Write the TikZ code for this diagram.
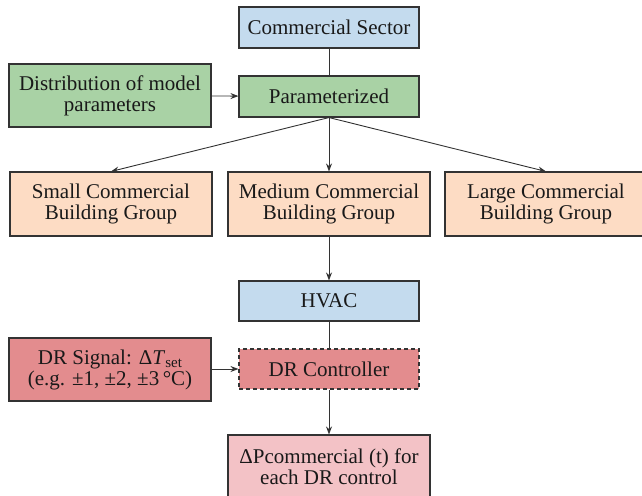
\documentclass[tikz,border=0pt]{standalone}
\usepackage{fontspec}
\setmainfont{Liberation Serif}
\usepackage{tikz}
\usetikzlibrary{arrows.meta}

\definecolor{boxblue}{RGB}{196,219,238}
\definecolor{boxgreen}{RGB}{169,210,165}
\definecolor{boxpeach}{RGB}{253,220,196}
\definecolor{boxred}{RGB}{227,140,142}
\definecolor{boxpink}{RGB}{243,194,198}
\definecolor{edgegray}{RGB}{51,51,51}

\begin{document}
\begin{tikzpicture}[x=1pt,y=-1pt,
    font=\fontsize{21}{21}\selectfont,
    box/.style={draw=edgegray, line width=1.1pt, align=center, inner sep=0pt, text=black!90},
    wide/.style={box, minimum width=180pt, minimum height=41pt},
    group/.style={box, minimum width=202pt, minimum height=64pt},
    link/.style={draw=edgegray, line width=0.9pt},
    >={Stealth[length=8pt,width=6pt]}]
                \useasboundingbox (0,0) rectangle (642,495);

                % Top
                \node[wide, fill=boxblue] (sector) at (329,27.5) {Commercial Sector};
                \node[wide, fill=boxgreen] (param) at (329,96.5) {Parameterized};
                \node[group, fill=boxgreen, minimum height=63pt] (dist) at (110,95.5) {Distribution of model\\parameters};

                % Building groups
                \node[group, fill=boxpeach] (small) at (111,204) {Small Commercial\\Building Group};
                \node[group, fill=boxpeach] (medium) at (329,204) {Medium Commercial\\Building Group};
                \node[group, fill=boxpeach] (large) at (546,204) {Large Commercial\\Building Group};

                % HVAC and DR
                \node[wide, fill=boxblue, minimum height=40pt] (hvac) at (329,301) {HVAC};
                \node[wide, fill=boxred, minimum height=40pt, dashed, dash pattern=on 4pt off 3pt] (drc) at (329,369) {DR Controller};
                \node[group, fill=boxred, minimum height=63pt] (drs) at (110,369.5) {DR Signal: Δ\textit{T}\raisebox{-0.35ex}{\fontsize{15}{15}\selectfont set}\\(e.g. ±1, ±2, ±3\,°C)};
                \node[group, fill=boxpink] (dp) at (329,467) {ΔPcommercial (t) for\\each DR control};

                % Connectors
                \draw[link] (sector) -- (param);
                \draw[link,->] (dist) -- (param);
                \draw[link,->] (param.south) -- (small.north);
                \draw[link,->] (param.south) -- (medium.north);
                \draw[link,->] (param.south) -- (large.north);
                \draw[link,->] (medium) -- (hvac);
                \draw[link] (hvac) -- (drc);
                \draw[link,->] (drs.east |- drc.west) -- (drc.west);
                \draw[link,->] (drc) -- (dp);
            \end{tikzpicture}
\end{document}
